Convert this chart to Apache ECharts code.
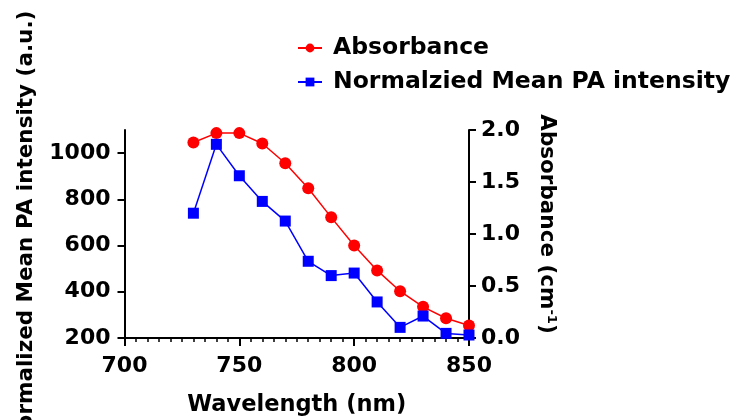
<!DOCTYPE html>
<html>
<head>
<meta charset="utf-8">
<script src="https://cdn.jsdelivr.net/npm/echarts@6/dist/echarts.min.js"></script>
<style>
  html, body { margin: 0; padding: 0; background: #fff; }
  #chart { width: 734px; height: 420px; }
</style>
</head>
<body>
<div id="chart"></div>
<script>
// Wavelength sweep (nm)
const wavelengths = [730, 740, 750, 760, 770, 780, 790, 800, 810, 820, 830, 840, 850];
// Absorbance (cm^-1), right axis
const absorbance = [1.88, 1.97, 1.97, 1.87, 1.68, 1.44, 1.16, 0.89, 0.65, 0.45, 0.30, 0.19, 0.12];
// Normalized mean PA intensity (a.u.), left axis
const paIntensity = [740, 1038, 902, 791, 706, 532, 470, 481, 356, 246, 295, 220, 213];
// Tick values
const leftTicks = [200, 400, 600, 800, 1000];
const bottomTicks = [700, 750, 800, 850];

const FONT = 'DejaVu Sans';
const labelStyle = { color: '#000', fontFamily: FONT, fontWeight: 'bold', fontSize: 22 };

const chart = echarts.init(document.getElementById('chart'), null, { renderer: 'canvas' });

chart.setOption({
  animation: false,
  backgroundColor: '#fff',
  grid: { left: 124.5, right: 265, top: 130, bottom: 82, containLabel: false, outerBoundsMode: 'none' },
  legend: {
    orient: 'vertical',
    left: 292,
    top: 31,
    itemWidth: 24,
    itemHeight: 11,
    itemGap: 10,
    textStyle: { color: '#000', fontFamily: FONT, fontWeight: 'bold', fontSize: 23.5, padding: [0, 0, 0, 6] },
    data: ['Absorbance', 'Normalzied Mean PA intensity']
  },
  xAxis: {
    type: 'value',
    min: 700,
    max: 850,
    interval: 50,
    name: 'Wavelength (nm)',
    nameLocation: 'middle',
    nameGap: 56,
    nameTextStyle: { color: '#000', fontFamily: FONT, fontWeight: 'bold', fontSize: 22.5 },
    axisLine: { lineStyle: { color: '#000', width: 2 } },
    axisTick: { length: 8, lineStyle: { color: '#000', width: 2 }, customValues: bottomTicks },
    minorTick: { show: true, splitNumber: 10, length: 4, lineStyle: { color: '#000', width: 1.5 } },
    axisLabel: Object.assign({ margin: 17, customValues: bottomTicks, formatter: v => String(v) }, labelStyle),
    splitLine: { show: false }
  },
  yAxis: [
    {
      type: 'value',
      position: 'left',
      min: 200,
      max: 1100,
      interval: 100,
      name: 'Normalized Mean PA intensity (a.u.)',
      nameLocation: 'middle',
      nameGap: 87,
      nameTextStyle: { color: '#000', fontFamily: FONT, fontWeight: 'bold', fontSize: 21.5, padding: [0, 0, 0, 10] },
      axisLine: { show: true, lineStyle: { color: '#000', width: 2 } },
      axisTick: { show: true, length: 7, lineStyle: { color: '#000', width: 2 }, customValues: leftTicks },
      axisLabel: Object.assign({ margin: 14, customValues: leftTicks, formatter: v => String(v) }, labelStyle),
      splitLine: { show: false }
    },
    {
      type: 'value',
      position: 'right',
      min: 0,
      max: 2,
      interval: 0.5,
      name: 'Absorbance (cm{sup|-1})',
      nameLocation: 'middle',
      nameRotate: -90,
      nameGap: 67,
      nameTextStyle: {
        color: '#000', fontFamily: FONT, fontWeight: 'bold', fontSize: 21.5, padding: [0, 20, 0, 0],
        rich: { sup: { color: '#000', fontFamily: FONT, fontWeight: 'bold', fontSize: 13, verticalAlign: 'top' } }
      },
      axisLine: { show: true, lineStyle: { color: '#000', width: 2 } },
      axisTick: { show: true, length: 7, lineStyle: { color: '#000', width: 2 } },
      axisLabel: Object.assign({ margin: 12, formatter: v => v.toFixed(1) }, labelStyle),
      splitLine: { show: false }
    }
  ],
  series: [
    {
      name: 'Absorbance',
      type: 'line',
      yAxisIndex: 1,
      data: wavelengths.map((w, i) => [w, absorbance[i]]),
      symbol: 'circle',
      symbolSize: 12,
      itemStyle: { color: '#ff0000' },
      lineStyle: { color: '#ff0000', width: 1.5 },
      z: 2
    },
    {
      name: 'Normalzied Mean PA intensity',
      type: 'line',
      yAxisIndex: 0,
      data: wavelengths.map((w, i) => [w, paIntensity[i]]),
      symbol: 'rect',
      symbolSize: 11,
      itemStyle: { color: '#0000ff' },
      lineStyle: { color: '#0000ff', width: 1.5 },
      z: 3
    }
  ]
});
</script>
</body>
</html>
